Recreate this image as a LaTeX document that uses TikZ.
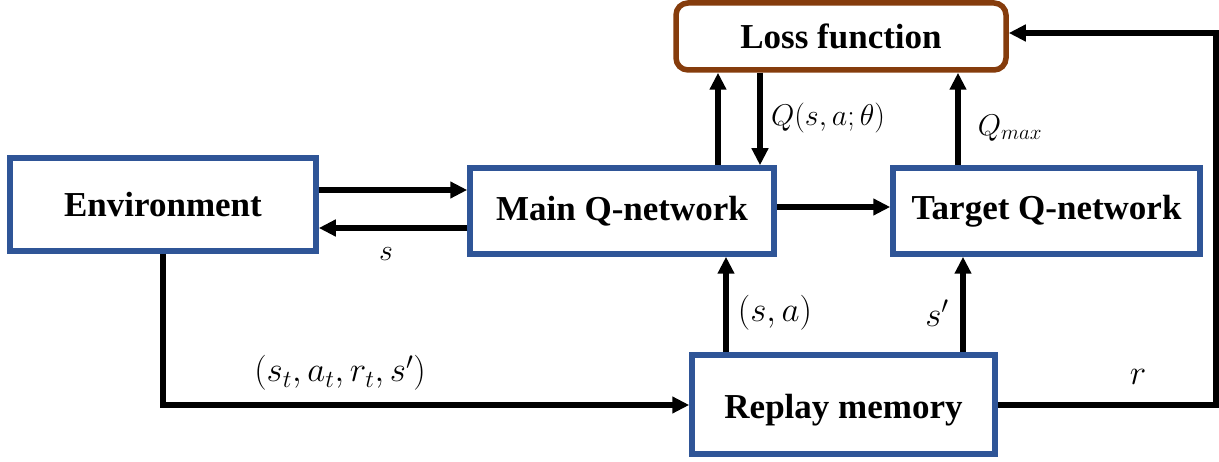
\RequirePackage{fix-cm}
\documentclass[tikz,border=0pt]{standalone}
\usepackage{fontspec}
\setmainfont{Liberation Serif}
\usetikzlibrary{arrows.meta}
\definecolor{boxblue}{RGB}{47,85,151}
\definecolor{lossbrown}{RGB}{133,60,12}
\tikzset{
  box/.style={draw=boxblue, line width=5.5pt, fill=white, inner sep=0pt,
    font=\fontsize{35}{40}\selectfont\bfseries},
  lossbox/.style={box, draw=lossbrown, rounded corners=12pt},
  arr/.style={line width=5.5pt, -{Triangle[length=17pt,width=16pt]}},
  lbl/.style={inner sep=0pt, font=\fontsize{35}{40}\selectfont},
  slbl/.style={inner sep=0pt, font=\fontsize{30}{36}\selectfont},
}
\begin{document}
\begin{tikzpicture}[x=1pt,y=-1pt]
\useasboundingbox (0,0) rectangle (1219,462);
\node[box, minimum width=306pt, minimum height=93pt] (env) at (163,204.5) {Environment};
\node[box, minimum width=304pt, minimum height=86pt] (main) at (622,211) {Main Q-network};
\node[box, minimum width=307pt, minimum height=86pt] (target) at (1046.5,211) {Target Q-network};
\node[lossbox, minimum width=330pt, minimum height=67pt] (loss) at (841,36.5) {Loss function};
\node[box, minimum width=303pt, minimum height=99pt] (replay) at (843.5,404.5) {\raisebox{0pt}[30pt][3pt]{Replay memory}};

\draw[arr] (env.east |- 0,190) -- (main.west |- 0,190);
\draw[arr] (main.west |- 0,228) -- (env.east |- 0,228);
\draw[arr] (main.east |- 0,207) -- (target.west |- 0,207);
\draw[arr] (main.north -| 718,0) -- (loss.south -| 718,0);
\draw[arr] (loss.south -| 760,0) -- (main.north -| 760,0);
\draw[arr] (target.north -| 958,0) -- (loss.south -| 958,0);
\draw[arr] (replay.north -| 726,0) -- (main.south -| 726,0);
\draw[arr] (replay.north -| 963,0) -- (target.south -| 963,0);

\coordinate (c1) at (163,405);
\draw[arr] (env.south) -- (c1) -- (replay.west |- c1);
\coordinate (c2) at (1216,405);
\coordinate (c3) at (1216,33);
\draw[arr] (replay.east |- c2) -- (c2) -- (c3) -- (loss.east |- c3);

\node[slbl] (ls) at (386,254) {$s$};
\node[slbl] (lq) at (828,118) {$Q(s,a;\theta)$};
\node[slbl] (lqm) at (1010,128) {$Q_{max}$};
\node[lbl] (lsa) at (775,313) {$(s,a)$};
\node[lbl] (lsp) at (937,313) {$s'$};
\node[lbl] (lt) at (340,373) {$(s_t,a_t,r_t,s')$};
\node[lbl] (lr) at (1138,377) {$r$};
\end{tikzpicture}
\end{document}
